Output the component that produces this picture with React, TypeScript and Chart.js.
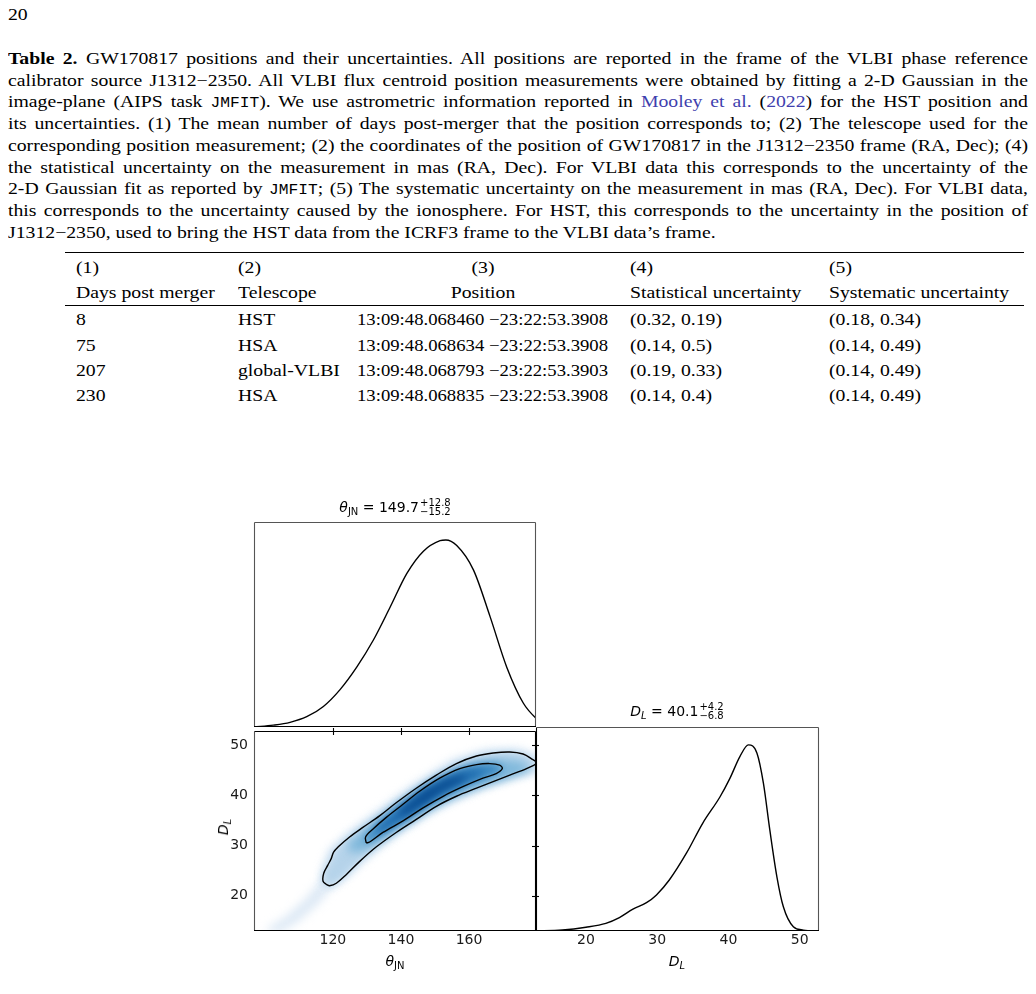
import React, { useEffect, useRef } from "react";
import { Chart, registerables } from "chart.js";

Chart.register(...registerables);

// ---- axis ranges and ticks ----
const thetaRange = [96.8, 179.7];
const distRange = [13.0, 52.7];
const densityMax = 1.096;
const thetaTicks = [120, 140, 160];
const distTicks = [20, 30, 40, 50];
const distTickLabels = ["20", "30", "40", "50"];

// ---- 1-D marginal posteriors (normalised to peak = 1) ----
const thetaGrid = [96.8, 102.5, 107.4, 112.3, 117.2, 122.1, 127, 131.9, 136.8, 141.7, 146.6, 151.5, 153.2, 156.4, 161.3, 166.2, 171.1, 176, 179.7, 181];
const thetaDensity = [0, 0.01, 0.025, 0.055, 0.11, 0.2, 0.32, 0.465, 0.64, 0.82, 0.94, 0.996, 1.0, 0.97, 0.84, 0.59, 0.32, 0.127, 0.047, 0.03];

const distGrid = [12.86, 16.7, 20, 22.8, 24.7, 26.6, 28.5, 29.9, 31.7, 34.1, 36.4, 38.8, 40.2, 41.6, 42.8, 44, 44.9, 45.8, 46.8, 47.7, 49.1, 50.5, 52.77];
const distDensity = [0, 0.005, 0.02, 0.041, 0.072, 0.117, 0.152, 0.194, 0.274, 0.418, 0.58, 0.72, 0.82, 0.937, 1.0, 0.955, 0.794, 0.543, 0.29, 0.13, 0.023, 0.005, 0];

// ---- 2-D credible contours (theta_JN, D_L) ----
const contourOuter: [number, number][] = [
  [118.2, 22.2], [117.1, 22.9], [117.3, 24.5], [118.5, 26.1], [119.5, 27.4], [120.2, 28.7], [121.5, 29.7],
  [124.9, 31.7], [128.8, 33.6], [133.7, 35.9], [138.6, 38.5], [144.5, 41.4], [150.4, 44.0], [156.3, 46.3],
  [162.2, 47.8], [167.1, 48.4], [172, 48.6], [175.9, 48.2], [178.3, 47.3], [179.9, 46.4], [176.9, 45.3],
  [172, 44.0], [167.1, 42.7], [162.2, 41.4], [156.3, 39.8], [150.4, 37.8], [144.5, 35.2], [138.6, 32.6],
  [132.7, 29.7], [127.8, 26.8], [123.9, 24.2], [121, 22.5], [119, 22.0], [118.2, 22.2],
];
const contourInner: [number, number][] = [
  [129.8, 30.5], [129.6, 31.7], [131.8, 33.3], [135.7, 35.6], [140.6, 38.2], [145.5, 40.8], [151.4, 43.4],
  [157.3, 45.3], [162.2, 46.1], [166.1, 46.3], [169, 46.0], [169.8, 45.3], [168, 44.3], [164.1, 43.4],
  [158.2, 41.7], [152.4, 39.8], [146.5, 37.5], [140.6, 34.9], [134.7, 32.6], [130.8, 30.7], [129.8, 30.5],
];

// ---- shaded density levels, lightest first ----
const shadeTail: [number, number][] = [
  [100, 13.2], [106, 15.8], [112, 19.4], [117, 23.5], [119, 25], [121, 23], [116, 18.6], [110, 15], [104, 12.5],
];
const shadeHalo: [number, number][] = [
  [116.5, 22], [116.5, 25], [118.5, 29], [124, 32.5], [133, 37], [144, 42.5], [155, 47.2], [165, 49.2],
  [174, 49.4], [181, 48], [181, 44.5], [172, 43.3], [162, 40.8], [150, 37], [139, 32.2], [130, 27.3], [123, 23], [118, 21.3],
];
const shadeMid: [number, number][] = [
  [124.5, 30.4], [130, 33.5], [140, 38.6], [150, 43.1], [160, 46], [168, 47], [174, 46.8], [178, 45.8],
  [178.5, 44.9], [172, 43.4], [164, 41.8], [155, 39.4], [146, 36.2], [137, 32.3], [129, 28.9], [125, 28.6],
];
const shadeCore: [number, number][] = [
  [133, 33.6], [140, 37.4], [146, 40.4], [152, 42.7], [158, 44.5], [163, 45], [164.5, 44.3],
  [158, 42.8], [152, 40.8], [146, 38.2], [140, 35.2], [133, 32.2],
];
const shadePeak: [number, number][] = [
  [140, 37], [147, 40.9], [154, 43.3], [159, 44], [158.5, 43], [152, 40.8], [146, 38], [140, 35.6],
];
const shadeLevels = [
  { pts: shadeTail, color: "rgba(198,219,239,0.6)", blur: 5 },
  { pts: shadeHalo, color: "#dbe9f6", blur: 4 },
  { pts: contourOuter, color: "#b5d3ea", blur: 4 },
  { pts: shadeMid, color: "#7fb8db", blur: 5 },
  { pts: contourInner, color: "#3585c0", blur: 4 },
  { pts: shadeCore, color: "#1763a9", blur: 5 },
  { pts: shadePeak, color: "#084a8f", blur: 4 },
];

// ---- table ----
const days = ["8", "75", "207", "230"];
const telescopes = ["HST", "HSA", "global-VLBI", "HSA"];
const positions = [
  "13:09:48.068460 \u221223:22:53.3908",
  "13:09:48.068634 \u221223:22:53.3908",
  "13:09:48.068793 \u221223:22:53.3903",
  "13:09:48.068835 \u221223:22:53.3908",
];
const statUnc = ["(0.32, 0.19)", "(0.14, 0.5)", "(0.19, 0.33)", "(0.14, 0.4)"];
const sysUnc = ["(0.18, 0.34)", "(0.14, 0.49)", "(0.14, 0.49)", "(0.14, 0.49)"];

const serif = "'Liberation Serif', 'Times New Roman', serif";
const sans = "'DejaVu Sans', sans-serif";
const mono = "'Liberation Mono', 'DejaVu Sans Mono', monospace";
const linkColor = "#3f3fae";
const textStretch = 1.16;
const textSize = 17;

type Pt = [number, number];
type Edge = "top" | "right" | "bottom" | "left";

function shadePlugin(levels: { pts: Pt[]; color: string; blur: number }[]) {
  return {
    id: "kdeShade",
    beforeDatasetsDraw(chart: any) {
      const { ctx, chartArea: a, scales } = chart;
      ctx.save();
      ctx.beginPath();
      ctx.rect(a.left, a.top, a.right - a.left, a.bottom - a.top);
      ctx.clip();
      for (const lv of levels) {
        ctx.filter = `blur(${lv.blur}px)`;
        ctx.fillStyle = lv.color;
        ctx.beginPath();
        lv.pts.forEach(([t, d], i) => {
          const x = scales.x.getPixelForValue(t);
          const y = scales.y.getPixelForValue(d);
          if (i === 0) ctx.moveTo(x, y);
          else ctx.lineTo(x, y);
        });
        ctx.closePath();
        ctx.fill();
      }
      ctx.restore();
    },
  };
}

function framePlugin(
  edges: Partial<Record<Edge, string>>,
  marks: { edge: Edge; axis: "x" | "y"; values: number[] }[] = []
) {
  return {
    id: "panelFrame",
    afterDatasetsDraw(chart: any) {
      const { ctx, chartArea: a, scales } = chart;
      const L = Math.round(a.left) + 0.5;
      const R = Math.round(a.right) - 0.5;
      const T = Math.round(a.top) + 0.5;
      const B = Math.round(a.bottom) - 0.5;
      ctx.save();
      ctx.lineWidth = 1.1;
      const seg = (c: string, x1: number, y1: number, x2: number, y2: number) => {
        ctx.strokeStyle = c;
        ctx.beginPath();
        ctx.moveTo(x1, y1);
        ctx.lineTo(x2, y2);
        ctx.stroke();
      };
      if (edges.left) seg(edges.left, L, T, L, B);
      if (edges.right) seg(edges.right, R, T, R, B);
      if (edges.top) seg(edges.top, L, T, R, T);
      if (edges.bottom) seg(edges.bottom, L - 0.5, B, R + 0.5, B);
      for (const m of marks) {
        for (const v of m.values) {
          if (m.axis === "x") {
            const x = Math.round(scales.x.getPixelForValue(v)) + 0.5;
            const y = m.edge === "top" ? T : B;
            seg("#000", x, y - 3.5, x, y + 3.5);
          } else {
            const y = Math.round(scales.y.getPixelForValue(v)) + 0.5;
            const x = m.edge === "right" ? R : L;
            seg("#000", x - 3.5, y, x + 3.5, y);
          }
        }
      }
      ctx.restore();
    },
  };
}

const tickFont = { family: "DejaVu Sans", size: 14 };
const noGrid = { display: false, drawTicks: false, tickLength: 0 };

function curve(xs: number[], ys: number[]) {
  return {
    data: xs.map((x, i) => ({ x, y: ys[i] })),
    showLine: true,
    borderColor: "#000",
    borderWidth: 1.4,
    pointRadius: 0,
    cubicInterpolationMode: "monotone" as const,
  };
}

function contour(pts: Pt[]) {
  return {
    data: pts.map(([x, y]) => ({ x, y })),
    showLine: true,
    borderColor: "#000",
    borderWidth: 1.4,
    pointRadius: 0,
    tension: 0.35,
  };
}

const baseOptions = {
  responsive: false,
  animation: false as const,
  devicePixelRatio: 1,
  events: [] as string[],
  plugins: { legend: { display: false }, tooltip: { enabled: false }, title: { display: false } },
};

function CornerPlot() {
  const topRef = useRef<HTMLCanvasElement>(null);
  const mainRef = useRef<HTMLCanvasElement>(null);
  const rightRef = useRef<HTMLCanvasElement>(null);

  useEffect(() => {
    const charts: Chart[] = [];

    // theta_JN marginal
    charts.push(
      new Chart(topRef.current!, {
        type: "scatter",
        data: { datasets: [curve(thetaGrid, thetaDensity)] },
        options: {
          ...baseOptions,
          layout: { padding: 10 },
          scales: {
            x: { type: "linear", display: false, min: thetaRange[0], max: thetaRange[1] },
            y: { type: "linear", display: false, min: 0, max: densityMax },
          },
        },
        plugins: [framePlugin({ left: "#555", top: "#555", right: "#555", bottom: "#000" })],
      } as any)
    );

    // joint posterior
    charts.push(
      new Chart(mainRef.current!, {
        type: "scatter",
        data: { datasets: [contour(contourOuter), contour(contourInner)] },
        options: {
          ...baseOptions,
          layout: { padding: { top: 10, right: 10, left: 0, bottom: 0 } },
          scales: {
            x: {
              type: "linear",
              min: thetaRange[0],
              max: thetaRange[1],
              grid: noGrid,
              border: { display: false },
              afterBuildTicks: (s: any) => {
                s.ticks = thetaTicks.map((v) => ({ value: v }));
              },
              afterFit: (s: any) => {
                s.height = 30;
              },
              ticks: { font: tickFont, color: "#1a1a1a", padding: 1, maxRotation: 0, autoSkip: false },
            },
            y: {
              type: "linear",
              min: distRange[0],
              max: distRange[1],
              grid: noGrid,
              border: { display: false },
              afterBuildTicks: (s: any) => {
                s.ticks = distTicks.map((v) => ({ value: v }));
              },
              afterFit: (s: any) => {
                s.width = 50;
              },
              ticks: {
                font: tickFont,
                color: "#1a1a1a",
                padding: 6,
                autoSkip: false,
                callback: (v: any) => distTickLabels[distTicks.indexOf(Number(v))] ?? String(v),
              },
            },
          },
        },
        plugins: [
          shadePlugin(shadeLevels),
          framePlugin(
            { left: "#555", top: "#000", right: "#000", bottom: "#000" },
            [
              { edge: "top", axis: "x", values: thetaTicks },
              { edge: "right", axis: "y", values: distTicks },
            ]
          ),
        ],
      } as any)
    );

    // D_L marginal
    charts.push(
      new Chart(rightRef.current!, {
        type: "scatter",
        data: { datasets: [curve(distGrid, distDensity)] },
        options: {
          ...baseOptions,
          layout: { padding: { top: 10, right: 10, left: 10, bottom: 0 } },
          scales: {
            x: {
              type: "linear",
              min: distRange[0],
              max: distRange[1],
              grid: noGrid,
              border: { display: false },
              afterBuildTicks: (s: any) => {
                s.ticks = distTicks.map((v) => ({ value: v }));
              },
              afterFit: (s: any) => {
                s.height = 30;
              },
              ticks: { font: tickFont, color: "#1a1a1a", padding: 1, maxRotation: 0, autoSkip: false },
            },
            y: { type: "linear", display: false, min: 0, max: densityMax },
          },
        },
        plugins: [framePlugin({ left: "#000", top: "#555", right: "#555", bottom: "#000" })],
      } as any)
    );

    return () => charts.forEach((c) => c.destroy());
  }, []);

  const abs = (left: number, top: number, w: number, h: number): React.CSSProperties => ({
    position: "absolute",
    left,
    top,
    width: w,
    height: h,
  });

  const stack = (sup: string, sub: string) => (
    <span
      style={{
        display: "inline-flex",
        flexDirection: "column",
        fontSize: 10,
        lineHeight: "9px",
        marginLeft: 1,
        verticalAlign: "middle",
        position: "relative",
        top: -1,
      }}
    >
      <span>{sup}</span>
      <span>{sub}</span>
    </span>
  );

  const label = (cx: number, cy: number, content: React.ReactNode, rotate = false): React.ReactNode => (
    <div
      style={{
        position: "absolute",
        left: cx,
        top: cy,
        transform: `translate(-50%, -50%)${rotate ? " rotate(-90deg)" : ""}`,
        fontFamily: sans,
        fontSize: 14,
        color: "#000",
        whiteSpace: "nowrap",
        lineHeight: "18px",
      }}
    >
      {content}
    </div>
  );

  const subs = (t: string, italic = false) => (
    <sub style={{ fontSize: 10, verticalAlign: "-3px", lineHeight: 0, fontStyle: italic ? "italic" : "normal" }}>{t}</sub>
  );

  return (
    <>
      <canvas ref={topRef} width={302} height={225} style={abs(244, 512, 302, 225)} />
      <canvas ref={mainRef} width={342} height={244} style={abs(204, 717, 342, 244)} />
      <canvas ref={rightRef} width={303} height={244} style={abs(526, 717, 303, 244)} />
      {label(395, 507, <span><i>θ</i>{subs("JN")} = 149.7{stack("+12.8", "\u221215.2")}</span>)}
      {label(677, 711, <span><i>D</i>{subs("L", true)} = 40.1{stack("+4.2", "\u22126.8")}</span>)}
      {label(395, 961, <span><i>θ</i>{subs("JN")}</span>)}
      {label(677, 961, <span><i>D</i>{subs("L", true)}</span>)}
      {label(223, 827, <span><i>D</i>{subs("L", true)}</span>, true)}
    </>
  );
}

function CaptionLine({ center, children, last = false }: { center: number; children: React.ReactNode; last?: boolean }) {
  return (
    <div
      style={{
        position: "absolute",
        left: 8,
        top: center - 11,
        width: 1020 / textStretch,
        height: 22,
        lineHeight: "22px",
        fontFamily: serif,
        fontSize: textSize,
        color: "#000",
        textAlign: "justify",
        textAlignLast: last ? "left" : "justify",
        whiteSpace: "nowrap",
        transform: `scaleX(${textStretch})`,
        transformOrigin: "0 0",
      }}
    >
      {children}
    </div>
  );
}

function Cell({
  x,
  center,
  text,
  align = "left",
  stretch = textStretch,
}: {
  x: number;
  center: number;
  text: string;
  align?: "left" | "center";
  stretch?: number;
}) {
  return (
    <div
      style={{
        position: "absolute",
        left: x,
        top: center - 11,
        lineHeight: "22px",
        height: 22,
        fontFamily: serif,
        fontSize: textSize,
        color: "#000",
        whiteSpace: "nowrap",
        transform: align === "center" ? `translateX(-50%) scaleX(${stretch})` : `scaleX(${stretch})`,
        transformOrigin: align === "center" ? "50% 0" : "0 0",
      }}
    >
      {text}
    </div>
  );
}

export default function App() {
  const lineCenters = [59.3, 80.8, 102.3, 124, 145.8, 167.5, 189.3, 211.2, 233.1];
  const rowCenters = [320.3, 345.5, 370.8, 396];
  const M = (t: string) => <span style={{ fontFamily: mono, fontSize: 14 }}>{t}</span>;
  const A = (t: string) => <span style={{ color: linkColor }}>{t}</span>;

  return (
    <div style={{ position: "absolute", left: 0, top: 0, width: 1036, height: 994, background: "#fff", overflow: "hidden" }}>
      <div
        style={{
          position: "absolute",
          left: 8,
          top: 4,
          fontFamily: serif,
          fontSize: textSize,
          lineHeight: "22px",
          transform: `scaleX(${textStretch})`,
          transformOrigin: "0 0",
        }}
      >
        20
      </div>

      <CaptionLine center={lineCenters[0]}>
        <b>Table 2.</b> GW170817 positions and their uncertainties. All positions are reported in the frame of the VLBI phase reference
      </CaptionLine>
      <CaptionLine center={lineCenters[1]}>
        calibrator source J1312{"\u2212"}2350. All VLBI flux centroid position measurements were obtained by fitting a 2-D Gaussian in the
      </CaptionLine>
      <CaptionLine center={lineCenters[2]}>
        image-plane (AIPS task {M("JMFIT")}). We use astrometric information reported in {A("Mooley et al.")} ({A("2022")}) for the HST position and
      </CaptionLine>
      <CaptionLine center={lineCenters[3]}>
        its uncertainties. (1) The mean number of days post-merger that the position corresponds to; (2) The telescope used for the
      </CaptionLine>
      <CaptionLine center={lineCenters[4]}>
        corresponding position measurement; (2) the coordinates of the position of GW170817 in the J1312{"\u2212"}2350 frame (RA, Dec); (4)
      </CaptionLine>
      <CaptionLine center={lineCenters[5]}>
        the statistical uncertainty on the measurement in mas (RA, Dec). For VLBI data this corresponds to the uncertainty of the
      </CaptionLine>
      <CaptionLine center={lineCenters[6]}>
        2-D Gaussian fit as reported by {M("JMFIT")}; (5) The systematic uncertainty on the measurement in mas (RA, Dec). For VLBI data,
      </CaptionLine>
      <CaptionLine center={lineCenters[7]}>
        this corresponds to the uncertainty caused by the ionosphere. For HST, this corresponds to the uncertainty in the position of
      </CaptionLine>
      <CaptionLine center={lineCenters[8]} last>
        J1312{"\u2212"}2350, used to bring the HST data from the ICRF3 frame to the VLBI data{"\u2019"}s frame.
      </CaptionLine>

      <div style={{ position: "absolute", left: 65, top: 251.6, width: 959, height: 1.4, background: "#000" }} />
      <div style={{ position: "absolute", left: 65, top: 304.6, width: 959, height: 0.9, background: "#000" }} />

      <Cell x={76} center={268} text="(1)" />
      <Cell x={238} center={268} text="(2)" />
      <Cell x={483} center={268} text="(3)" align="center" />
      <Cell x={630} center={268} text="(4)" />
      <Cell x={829} center={268} text="(5)" />
      <Cell x={76} center={292.5} text="Days post merger" />
      <Cell x={238} center={292.5} text="Telescope" />
      <Cell x={483} center={292.5} text="Position" align="center" />
      <Cell x={630} center={292.5} text="Statistical uncertainty" />
      <Cell x={829} center={292.5} text="Systematic uncertainty" />

      {days.map((d, i) => (
        <React.Fragment key={i}>
          <Cell x={76} center={rowCenters[i]} text={d} />
          <Cell x={238} center={rowCenters[i]} text={telescopes[i]} />
          <Cell x={357} center={rowCenters[i]} text={positions[i]} stretch={1.1} />
          <Cell x={630} center={rowCenters[i]} text={statUnc[i]} />
          <Cell x={829} center={rowCenters[i]} text={sysUnc[i]} />
        </React.Fragment>
      ))}

      <CornerPlot />
    </div>
  );
}
